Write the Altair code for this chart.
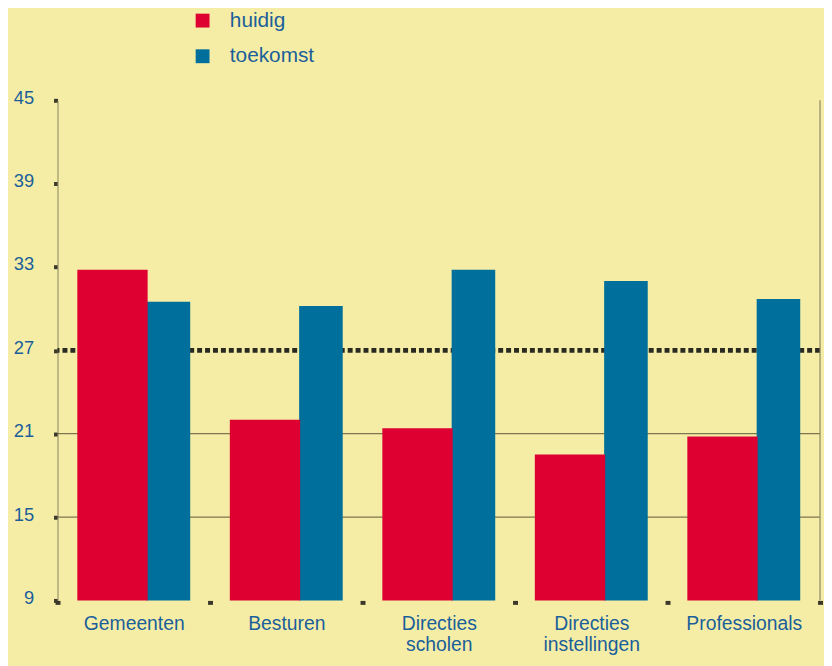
import altair as alt
import pandas as pd

categories = ["Gemeenten", "Besturen", "Directies|scholen", "Directies|instellingen", "Professionals"]
huidig = [32.8, 22.0, 21.4, 19.5, 20.8]
toekomst = [30.5, 30.2, 32.8, 32.0, 30.7]
series = ["huidig", "toekomst"]
colors = ["#de0030", "#006f9b"]
y_ticks = [9, 15, 21, 27, 33, 39, 45]
grid_vals = [15, 21]
ref_val = [27]

rows = []
for c, h, t in zip(categories, huidig, toekomst):
    rows.append({"cat": c, "serie": "huidig", "v": h})
    rows.append({"cat": c, "serie": "toekomst", "v": t})
df = pd.DataFrame(rows)

BG = "#f5eda6"
TXT = "#1b5f9a"
FONT = "Liberation Sans, Arial"

xscale = alt.Scale(domain=categories, paddingInner=0, paddingOuter=0)
yscale = alt.Scale(domain=[9, 45], nice=False, zero=False)
cscale = alt.Scale(domain=series, range=colors)

grid = alt.Chart(pd.DataFrame({"g": grid_vals})).mark_rule(
    color="#5f573a", strokeWidth=1.2, opacity=0.8
).encode(y=alt.Y("g:Q", scale=yscale))

ref = alt.Chart(pd.DataFrame({"g": ref_val})).mark_rule(
    color="#2a2a22", strokeWidth=5, strokeDash=[5, 3]
).encode(y=alt.Y("g:Q", scale=yscale))

right = alt.Chart(pd.DataFrame({"a": [9], "b": [45]})).mark_rule(
    color="#8e8762", strokeWidth=1.2
).encode(x=alt.value(770), y=alt.Y("a:Q", scale=yscale), y2="b:Q")

blue = alt.Chart(df[df.serie == "toekomst"]).mark_bar(width=44, xOffset=35).encode(
    x=alt.X("cat:N", scale=xscale, sort=categories,
            axis=alt.Axis(title=None, labelAngle=0, domain=False,
                          labelExpr="split(datum.label, '|')",
                          labelFont=FONT, labelFontSize=19.5, labelColor=TXT,
                          labelPadding=10, labelLineHeight=21.5,
                          tickBand="extent", ticks=True, tickSize=4, tickWidth=5,
                          tickColor="#3a382a")),
    y=alt.Y("v:Q", scale=yscale,
            axis=alt.Axis(title=None, values=y_ticks, grid=False,
                          labelFont=FONT, labelFontSize=18.5,
                          labelColor=TXT, labelPadding=20, labelOffset=-3,
                          domainColor="#9a9470", domainWidth=1.2,
                          tickColor="#3a382a", tickSize=4, tickWidth=4)),
    y2=alt.datum(9),
    color=alt.Color("serie:N", scale=cscale,
                    legend=alt.Legend(title=None, orient="none", legendX=136, legendY=-91,
                                      symbolType="square", symbolSize=196,
                                      symbolStrokeWidth=0,
                                      labelFont=FONT, labelFontSize=21,
                                      labelColor=TXT, rowPadding=14, labelOffset=17)),
)

red = alt.Chart(df[df.serie == "huidig"]).mark_bar(width=71, xOffset=-21.5).encode(
    x=alt.X("cat:N", scale=xscale, sort=categories),
    y=alt.Y("v:Q", scale=yscale),
    y2=alt.datum(9),
    color=alt.Color("serie:N", scale=cscale),
)

chart = alt.layer(grid, ref, right, blue, red).properties(
    width=770, height=505,
    padding={"left": 50, "top": 90, "right": 4, "bottom": 63},
    autosize=alt.AutoSizeParams(type="none"),
    background=BG,
).configure_view(stroke=None)

chart.save("out.html", embed_options={"renderer": "svg", "actions": False})
